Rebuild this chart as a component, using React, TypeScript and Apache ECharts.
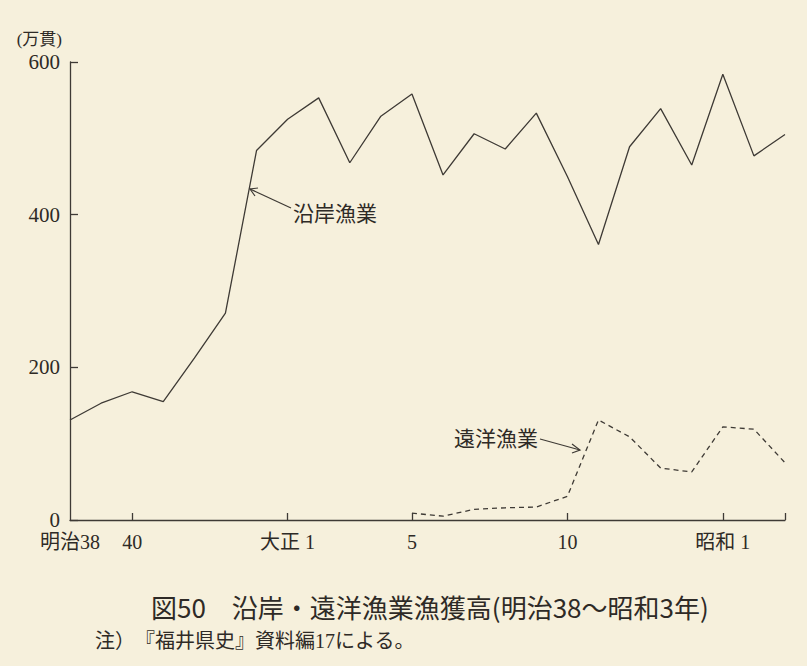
import { useEffect, useRef } from 'react';
import * as echarts from 'echarts';

// 明治38 (1905) – 昭和3 (1928)
const years = [
  '1905', '1906', '1907', '1908', '1909', '1910', '1911', '1912',
  '1913', '1914', '1915', '1916', '1917', '1918', '1919', '1920',
  '1921', '1922', '1923', '1924', '1925', '1926', '1927', '1928'
];

// 沿岸漁業 (万貫)
const coastal = [
  131, 153, 168, 155, 212, 271, 484, 525,
  553, 468, 529, 558, 452, 506, 486, 533,
  450, 361, 489, 539, 465, 584, 477, 505
];

// 遠洋漁業 (万貫), starts 大正5
const pelagic = [
  null, null, null, null, null, null, null, null,
  null, null, null, 9, 5, 14, 16, 17,
  31, 131, 109, 68, 63, 122, 119, 75
];

// label text per category index
const xLabels: Record<number, string> = {
  0: '明治38',
  2: '40',
  7: '大正 1',
  11: '5',
  16: '10',
  21: '昭和 1'
};
const tickIdx = [2, 7, 11, 16, 21, 23];

const yTicks = [0, 200, 400, 600];

const ink = '#3e3a35';
const bg = '#f6f0dc';
const serif = '"Liberation Serif", "Noto Sans CJK JP", serif';
const sans = '"Noto Sans CJK JP", sans-serif';

export default function App() {
  const ref = useRef<HTMLDivElement>(null);

  useEffect(() => {
    document.body.style.margin = '0';
    if (!ref.current) return;
    const chart = echarts.init(ref.current, null, { renderer: 'svg' });

    chart.setOption({
      animation: false,
      backgroundColor: bg,
      grid: { left: 70, right: 22, top: 62, bottom: 146 },
      title: [
        {
          text: '図50　沿岸・遠洋漁業漁獲高(明治38〜昭和3年)',
          left: 146,
          top: 588,
          textStyle: { fontFamily: sans, fontSize: 26, fontWeight: 'normal', color: '#2e2a26' }
        },
        {
          text: '注）　『福井県史』資料編17による。',
          left: 90,
          top: 626,
          textStyle: { fontFamily: serif, fontSize: 20, fontWeight: 'normal', color: '#2e2a26' }
        }
      ],
      xAxis: {
        type: 'category',
        data: years,
        boundaryGap: false,
        axisLine: { lineStyle: { color: ink, width: 1.3 } },
        axisTick: {
          inside: true,
          length: 7,
          interval: (i: number) => tickIdx.includes(i),
          lineStyle: { color: ink, width: 1.3 }
        },
        axisLabel: {
          interval: (i: number) => xLabels[i] !== undefined,
          formatter: (_v: string, i: number) => xLabels[i] ?? '',
          fontFamily: serif,
          fontSize: 20,
          color: '#2e2a26',
          margin: 12
        }
      },
      yAxis: {
        type: 'value',
        min: yTicks[0],
        max: yTicks[yTicks.length - 1],
        interval: 200,
        name: '(万貫)',
        nameLocation: 'end',
        nameGap: 14,
        nameTextStyle: { fontFamily: serif, fontSize: 17, color: '#2e2a26', align: 'right', padding: [0, 8, 0, 0] },
        splitLine: { show: false },
        axisLine: { show: true, lineStyle: { color: ink, width: 1.3 } },
        axisTick: { show: true, inside: true, length: 8, lineStyle: { color: ink, width: 1.3 } },
        axisLabel: { fontFamily: serif, fontSize: 21, color: '#2e2a26', margin: 10, lineHeight: 18 }
      },
      series: [
        {
          name: '沿岸漁業',
          type: 'line',
          data: coastal,
          symbol: 'none',
          lineStyle: { color: ink, width: 1.3 }
        },
        {
          name: '遠洋漁業',
          type: 'line',
          data: pelagic,
          symbol: 'none',
          connectNulls: false,
          lineStyle: { color: ink, width: 1.3, type: [5, 4] }
        }
      ],
      graphic: [
        {
          type: 'text',
          left: 293,
          top: 201,
          style: { text: '沿岸漁業', fontFamily: sans, fontSize: 21, fill: '#2e2a26' }
        },
        {
          type: 'line',
          shape: { x1: 291, y1: 208, x2: 250, y2: 189 },
          style: { stroke: ink, lineWidth: 1.2 }
        },
        {
          type: 'polyline',
          shape: { points: [[258, 188], [250, 189], [255, 196]] },
          style: { stroke: ink, lineWidth: 1.2, fill: 'none' }
        },
        {
          type: 'text',
          left: 454,
          top: 426,
          style: { text: '遠洋漁業', fontFamily: sans, fontSize: 21, fill: '#2e2a26' }
        },
        {
          type: 'line',
          shape: { x1: 540, y1: 439, x2: 580, y2: 450 },
          style: { stroke: ink, lineWidth: 1.2 }
        },
        {
          type: 'polyline',
          shape: { points: [[572, 444], [580, 450], [572, 453]] },
          style: { stroke: ink, lineWidth: 1.2, fill: 'none' }
        }
      ]
    });

    return () => chart.dispose();
  }, []);

  return <div ref={ref} style={{ width: 807, height: 666 }} />;
}
